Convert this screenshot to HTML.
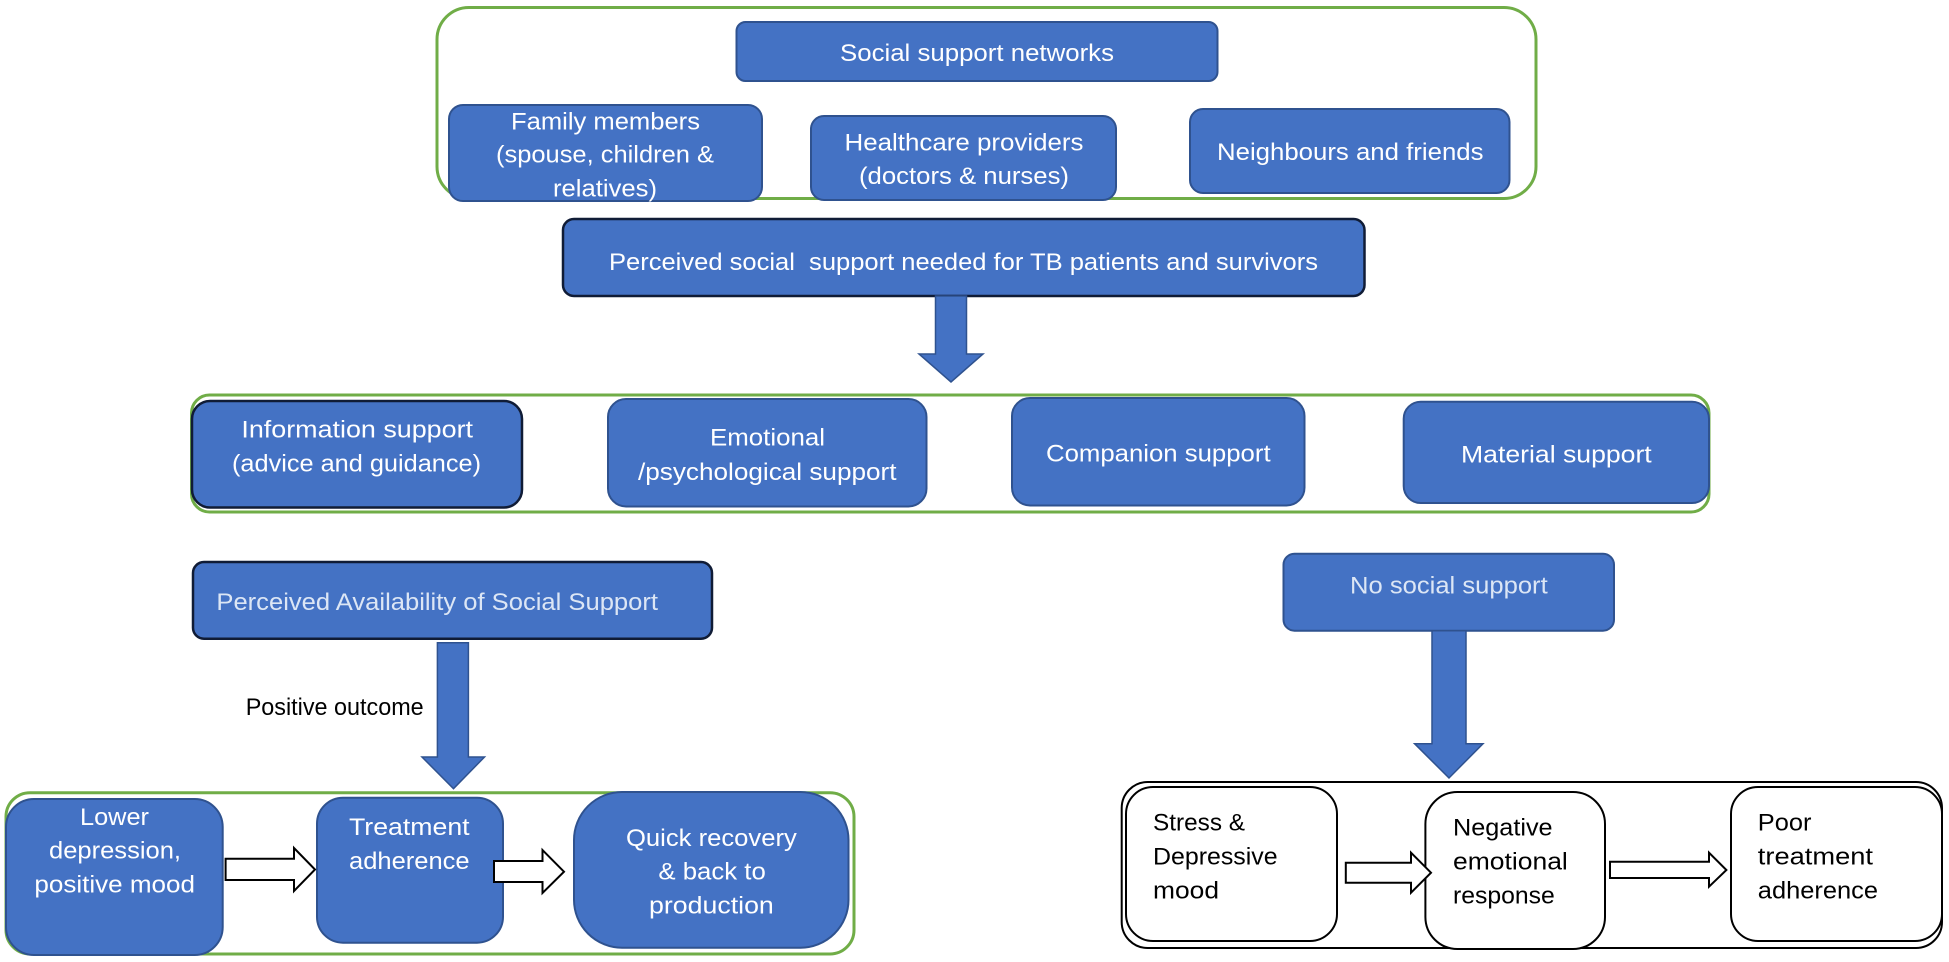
<!DOCTYPE html>
<html lang="en">
<head>
<meta charset="utf-8">
<title>Social support diagram</title>
<style>
html,body{margin:0;padding:0;background:#fff;width:1949px;height:962px;overflow:hidden}
svg{display:block}
text{font-family:"Liberation Sans",sans-serif;font-size:24px;white-space:pre}
.w{fill:#fff}
.p{fill:#dce6f5}
.k{fill:#000}
.b{fill:#4472c4;stroke:#2f528f;stroke-width:2}
.d{fill:#4472c4;stroke:#101c36;stroke-width:2.5}
.g{fill:#fff;stroke:#70ad47;stroke-width:3}
.o{fill:#fff;stroke:#000;stroke-width:2}
.a{fill:#fff;stroke:#000;stroke-width:2}
.f{fill:#4472c4;stroke:#2f528f;stroke-width:1.5}
</style>
</head>
<body>
<svg width="1949" height="962" viewBox="0 0 1949 962" xmlns="http://www.w3.org/2000/svg">
<rect width="1949" height="962" fill="#fff"/>

<!-- Top group -->
<rect class="g" x="437" y="7.5" width="1099" height="191" rx="32"/>
<rect class="b" x="736.5" y="22" width="481" height="59" rx="9"/>
<rect class="b" x="449" y="105" width="313" height="96" rx="14"/>
<rect class="b" x="811" y="116" width="305" height="84" rx="13"/>
<rect class="b" x="1190" y="109" width="319.5" height="84" rx="13"/>
<text class="w" x="840" y="61" textLength="274" lengthAdjust="spacingAndGlyphs">Social support networks</text>
<text class="w" x="511" y="129.3" textLength="189" lengthAdjust="spacingAndGlyphs">Family members</text>
<text class="w" x="496" y="162.7" textLength="218" lengthAdjust="spacingAndGlyphs">(spouse, children &amp;</text>
<text class="w" x="553" y="196.7" textLength="104" lengthAdjust="spacingAndGlyphs">relatives)</text>
<text class="w" x="844.5" y="150.7" textLength="239" lengthAdjust="spacingAndGlyphs">Healthcare providers</text>
<text class="w" x="859" y="184" textLength="210" lengthAdjust="spacingAndGlyphs">(doctors &amp; nurses)</text>
<text class="w" x="1217" y="160" textLength="266.5" lengthAdjust="spacingAndGlyphs">Neighbours and friends</text>

<!-- Perceived needed -->
<rect class="d" x="563" y="219" width="801.5" height="77" rx="11"/>
<text class="w" x="609" y="270" textLength="709" lengthAdjust="spacingAndGlyphs">Perceived social  support needed for TB patients and survivors</text>
<polygon class="f" points="935.5,296 966.5,296 966.5,354 983,354 951,382 919,354 935.5,354"/>

<!-- Support types -->
<rect class="g" x="191.5" y="395" width="1517.5" height="117" rx="18"/>
<rect class="d" x="192" y="401" width="330" height="106.5" rx="18"/>
<rect class="b" x="608" y="399" width="318.5" height="107.5" rx="18"/>
<rect class="b" x="1012" y="398" width="292.5" height="107.5" rx="18"/>
<rect class="b" x="1403.7" y="401.7" width="305.3" height="101.3" rx="17"/>
<text class="w" x="241.4" y="437.7" textLength="231.6" lengthAdjust="spacingAndGlyphs">Information support</text>
<text class="w" x="232" y="471.7" textLength="249" lengthAdjust="spacingAndGlyphs">(advice and guidance)</text>
<text class="w" x="710" y="445.7" textLength="115" lengthAdjust="spacingAndGlyphs">Emotional</text>
<text class="w" x="638" y="480" textLength="258.5" lengthAdjust="spacingAndGlyphs">/psychological support</text>
<text class="w" x="1046" y="461.7" textLength="224.6" lengthAdjust="spacingAndGlyphs">Companion support</text>
<text class="w" x="1461" y="462.3" textLength="190.7" lengthAdjust="spacingAndGlyphs">Material support</text>

<!-- Perceived availability -->
<rect class="d" x="193" y="562" width="519" height="76.7" rx="11"/>
<text class="p" x="216.4" y="610" textLength="441.6" lengthAdjust="spacingAndGlyphs">Perceived Availability of Social Support</text>
<polygon class="f" points="437.4,642.7 468.4,642.7 468.4,757 484.5,757 453.5,788.7 422,757 437.4,757"/>
<text class="k" x="245.7" y="715" textLength="178" lengthAdjust="spacingAndGlyphs">Positive outcome</text>

<!-- No social support -->
<rect class="b" x="1283.5" y="553.7" width="330.5" height="77" rx="11"/>
<text class="p" x="1350" y="593.3" textLength="197.7" lengthAdjust="spacingAndGlyphs">No social support</text>
<polygon class="f" points="1432,630.7 1466,630.7 1466,743.7 1483,743.7 1449,778 1414.6,743.7 1432,743.7"/>

<!-- Positive outcome group -->
<rect class="g" x="6" y="792.7" width="848" height="161.3" rx="24"/>
<rect class="b" x="6" y="799" width="216.7" height="156" rx="28"/>
<rect class="b" x="317" y="797.7" width="186" height="145" rx="26"/>
<rect class="b" x="574" y="792" width="274.5" height="155.7" rx="48"/>
<text class="w" x="80" y="825" textLength="69" lengthAdjust="spacingAndGlyphs">Lower</text>
<text class="w" x="49" y="858.7" textLength="132" lengthAdjust="spacingAndGlyphs">depression,</text>
<text class="w" x="34.4" y="892.7" textLength="160.6" lengthAdjust="spacingAndGlyphs">positive mood</text>
<text class="w" x="349" y="835" textLength="120.6" lengthAdjust="spacingAndGlyphs">Treatment</text>
<text class="w" x="349" y="869" textLength="120.6" lengthAdjust="spacingAndGlyphs">adherence</text>
<text class="w" x="626" y="846" textLength="170.8" lengthAdjust="spacingAndGlyphs">Quick recovery</text>
<text class="w" x="658.4" y="879.3" textLength="107.4" lengthAdjust="spacingAndGlyphs">&amp; back to</text>
<text class="w" x="649" y="913.3" textLength="124.8" lengthAdjust="spacingAndGlyphs">production</text>
<polygon class="a" points="225.6,858.7 294,858.7 294,848 315,869.5 294,891 294,880 225.6,880"/>
<polygon class="a" points="494,861 542.5,861 542.5,850 564,871.7 542.5,893 542.5,882 494,882"/>

<!-- Negative outcome group -->
<rect class="o" x="1121.7" y="782" width="820.3" height="166" rx="26"/>
<rect class="o" x="1126" y="787" width="211" height="154" rx="27"/>
<rect class="o" x="1425.4" y="792" width="179.6" height="157" rx="32"/>
<rect class="o" x="1731" y="787" width="211" height="154" rx="27"/>
<text class="k" x="1153" y="830.7" textLength="92" lengthAdjust="spacingAndGlyphs">Stress &amp;</text>
<text class="k" x="1153" y="864.7" textLength="124.6" lengthAdjust="spacingAndGlyphs">Depressive</text>
<text class="k" x="1153" y="898.7" textLength="66" lengthAdjust="spacingAndGlyphs">mood</text>
<text class="k" x="1453" y="835.3" textLength="99.6" lengthAdjust="spacingAndGlyphs">Negative</text>
<text class="k" x="1453" y="869.3" textLength="114.8" lengthAdjust="spacingAndGlyphs">emotional</text>
<text class="k" x="1453" y="903.3" textLength="101.8" lengthAdjust="spacingAndGlyphs">response</text>
<text class="k" x="1757.8" y="830.7" textLength="53.6" lengthAdjust="spacingAndGlyphs">Poor</text>
<text class="k" x="1757.8" y="864.7" textLength="115.2" lengthAdjust="spacingAndGlyphs">treatment</text>
<text class="k" x="1757.8" y="898.7" textLength="120.2" lengthAdjust="spacingAndGlyphs">adherence</text>
<polygon class="a" points="1345.8,862.7 1411,862.7 1411,852.7 1431,872.7 1411,892.7 1411,882.7 1345.8,882.7"/>
<polygon class="a" points="1610,861.7 1709,861.7 1709,852.7 1726.4,870 1709,886.7 1709,878 1610,878"/>
</svg>
</body>
</html>
